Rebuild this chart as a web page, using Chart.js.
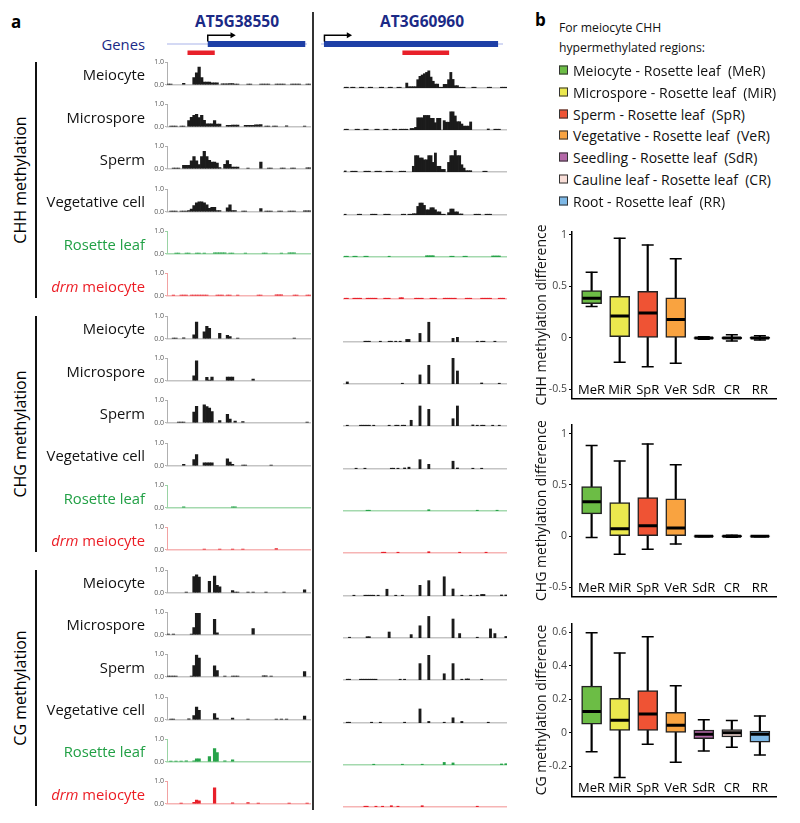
<!DOCTYPE html>
<html>
<head>
<meta charset="utf-8">
<script src="https://cdn.jsdelivr.net/npm/chart.js@4.4.1/dist/chart.umd.min.js"></script>
<style>
  body { margin: 0; background: #fff; font-family: 'Open Sans', sans-serif; }
  #fig { position: relative; width: 800px; height: 823px; overflow: hidden; }
  .abs { position: absolute; }
  canvas { display: block; }
  .rowLabel { position: absolute; right: 655px; font-size: 14.8px; white-space: nowrap; transform: translateY(-50%); }
  .groupLabel { position: absolute; left: 20px; font-size: 16px; white-space: nowrap; transform: translate(-50%, -50%) rotate(-90deg); }
  .vline { position: absolute; background: #111; }
  .panel { position: absolute; font-weight: bold; font-size: 17px; line-height: 20px; }
  .gene { position: absolute; font-weight: bold; font-size: 15.5px; color: #1b2a86; transform: translate(-50%, -50%); }
  .leg { position: absolute; left: 559px; font-size: 14px; white-space: nowrap; transform: translateY(-50%); color: #111; }
  .leg span.sq { display: inline-block; width: 7px; height: 7px; border: 1px solid #333; margin-right: 5px; vertical-align: 1px; }
</style>
</head>
<body>
<div id="fig"></div>
<script>
const FONT = "'Open Sans', sans-serif";

// ---------- panel a : genome browser tracks ----------
const NL = 56, NR = 74;   // bins in the AT5G38550 / AT3G60960 windows
const geneNames = ['AT5G38550', 'AT3G60960'];
const trackNames = ['Meiocyte', 'Microspore', 'Sperm', 'Vegetative cell', 'Rosette leaf', 'drm meiocyte'];
const contexts = ['CHH methylation', 'CHG methylation', 'CG methylation'];
const trackTicks = [0, 1];

// gene model, in bins
const geneBodyL = [16.3, 55.3], geneBodyR = [1.2, 72.0];
const tssL = 16.3, tssR = 1.4, arrowLen = 9.8;
const hyperRegionL = [8.2, 19.1], hyperRegionR = [33.1, 52.1];

// methylation level per bin: [fromBin, toBin, level]
const chhMeioL = [[0,1,.03],[6,6,.06],[10,10,.32],[11,11,.53],[12,12,.78],[13,13,.32],[14,16,.12],[17,19,.09],[21,23,.04],[24,25,.05],[26,27,.03],[31,32,.03],[36,39,.03],[42,45,.03],[48,51,.03],[54,55,.03]];
const chhMeioR = [[0,1,.03],[3,4,.03],[7,8,.03],[11,12,.03],[16,17,.03],[20,21,.03],[24,25,.03],[28,28,.19],[29,32,.05],[33,33,.32],[34,34,.45],[35,35,.5],[36,36,.55],[37,37,.6],[38,38,.66],[39,39,.42],[40,40,.26],[41,42,.15],[43,44,.03],[45,46,.14],[47,47,.32],[48,48,.6],[49,49,.33],[50,51,.09],[52,54,.03],[58,59,.03],[65,66,.03],[71,73,.03]];
const chhMicroL = [[1,3,.03],[5,6,.03],[8,8,.28],[9,9,.42],[10,10,.51],[11,11,.55],[12,12,.41],[13,13,.51],[14,14,.29],[15,17,.13],[18,18,.28],[19,20,.12],[23,24,.06],[25,27,.08],[30,33,.07],[34,35,.09],[36,36,.1],[38,39,.03],[41,42,.03],[46,46,.04],[53,53,.03]];
const chhMicroR = [[0,1,.03],[5,6,.03],[9,10,.03],[14,15,.03],[18,19,.03],[22,23,.03],[25,28,.03],[30,31,.06],[32,32,.1],[33,35,.47],[36,38,.56],[39,40,.45],[41,41,.28],[42,43,.45],[45,45,.36],[46,47,.3],[48,49,.7],[50,50,.54],[51,52,.32],[53,53,.23],[54,56,.15],[57,57,.31],[65,65,.04],[68,70,.03]];
const chhSpermL = [[2,4,.03],[6,8,.15],[9,9,.35],[10,10,.54],[11,11,.35],[12,12,.19],[13,13,.54],[14,14,.77],[15,15,.54],[16,16,.38],[17,18,.3],[19,19,.25],[20,20,.05],[22,22,.2],[23,23,.36],[24,24,.2],[25,27,.08],[31,31,.03],[36,36,.3],[39,40,.03],[44,45,.03],[48,49,.03],[54,55,.04]];
const chhSpermR = [[0,0,.04],[3,5,.03],[9,11,.03],[14,16,.03],[19,21,.03],[25,27,.03],[31,31,.22],[32,33,.63],[34,35,.54],[36,37,.47],[38,39,.63],[40,40,.37],[41,41,.73],[42,43,.22],[44,45,.1],[47,47,.37],[48,49,.63],[50,50,.83],[51,52,.63],[53,53,.28],[54,54,.15],[55,57,.05],[63,64,.03]];
const chhVegL = [[1,3,.03],[5,7,.03],[8,8,.05],[9,9,.12],[10,10,.28],[11,11,.4],[12,13,.44],[14,14,.4],[15,15,.31],[16,16,.15],[17,18,.2],[19,20,.05],[23,23,.18],[24,24,.31],[25,26,.05],[29,30,.03],[36,36,.14],[38,40,.03],[43,44,.03],[47,49,.03],[53,55,.04]];
const chhVegR = [[0,0,.03],[6,7,.03],[12,14,.03],[18,20,.03],[26,27,.03],[29,30,.03],[31,32,.05],[33,33,.33],[34,35,.46],[36,36,.37],[37,38,.2],[39,40,.28],[41,41,.2],[42,43,.12],[44,45,.03],[47,47,.09],[48,49,.23],[50,51,.12],[52,53,.04],[59,61,.03],[64,66,.03]];
const chhLeafL = [[3,4,.03],[7,8,.03],[11,12,.03],[14,14,.03],[18,22,.04],[24,25,.03],[30,30,.03],[37,38,.03],[44,44,.03],[47,49,.04]];
const chhLeafR = [[0,1,.03],[4,5,.03],[9,10,.03],[20,20,.03],[37,40,.05],[48,49,.03],[54,55,.03],[67,70,.04]];
const chhDrmL = [[2,2,.03],[5,7,.03],[9,15,.03],[19,21,.03],[23,24,.03],[27,27,.03],[35,36,.03],[42,44,.04],[49,50,.03],[54,55,.03]];
const chhDrmR = [[0,1,.03],[4,7,.03],[10,14,.03],[18,20,.03],[25,26,.05],[32,35,.03],[39,41,.03],[45,50,.03],[55,57,.03],[62,66,.03],[70,72,.03]];

const chgMeioL = [[2,3,.03],[6,6,.04],[10,10,.18],[11,11,.74],[14,14,.31],[15,15,.55],[16,16,.46],[20,20,.24],[23,23,.15],[24,24,.1],[27,27,.03],[49,49,.03]];
const chgMeioR = [[9,11,.03],[16,16,.03],[20,21,.03],[23,23,.03],[25,25,.03],[28,29,.1],[34,34,.33],[38,38,.76],[49,49,.14],[51,51,.18],[60,60,.03],[62,63,.03],[68,68,.03]];
const chgMicroL = [[10,10,.22],[11,11,.88],[15,15,.15],[16,16,.03],[17,17,.17],[23,25,.17],[33,33,.08]];
const chgMicroR = [[1,1,.08],[26,26,.03],[34,34,.35],[38,38,.72],[49,49,1.0],[51,51,.5],[62,62,.04],[70,70,.03]];
const chgSpermL = [[4,6,.03],[10,10,.47],[11,11,.73],[14,14,.8],[15,15,.72],[16,16,.65],[17,17,.5],[20,20,.1],[23,23,.38],[24,24,.16],[26,26,.08],[29,29,.05],[54,54,.03]];
const chgSpermR = [[1,1,.03],[7,11,.03],[13,13,.03],[20,20,.03],[23,24,.03],[26,27,.03],[30,30,.22],[34,34,.77],[38,38,.64],[49,49,.28],[51,51,.77],[58,58,.04],[60,60,.03],[62,63,.03],[67,67,.03],[70,70,.03]];
const chgVegL = [[6,6,.06],[10,10,.27],[11,11,.5],[14,17,.13],[23,23,.31],[24,24,.17],[25,25,.06],[29,30,.03],[40,40,.03]];
const chgVegR = [[5,5,.03],[9,9,.03],[21,22,.03],[24,24,.03],[27,27,.04],[29,29,.07],[34,34,.36],[38,38,.18],[49,49,.3],[51,51,.04],[58,58,.03],[62,62,.03]];
const chgLeafL = [[6,6,.04],[25,26,.04]];
const chgLeafR = [[10,11,.03],[38,38,.05],[60,60,.03],[69,69,.03]];
const chgDrmL = [[14,14,.03],[20,20,.03],[25,25,.03],[29,29,.03],[42,42,.05]];
const chgDrmR = [[17,18,.03],[24,24,.03],[38,38,.05],[52,52,.03],[64,64,.03]];

const cgMeioL = [[7,7,.03],[10,10,.72],[11,11,.8],[12,12,.7],[16,16,.51],[18,18,.74],[19,19,.33],[20,20,.26],[25,25,.1],[26,27,.03],[31,31,.03],[33,33,.03],[38,38,.03],[45,45,.03],[53,53,.13]];
const cgMeioR = [[4,4,.03],[9,13,.03],[15,15,.03],[19,19,.26],[23,23,.03],[26,26,.03],[34,34,.41],[38,38,.59],[45,45,.74],[49,49,.27],[53,53,.03],[57,57,.03],[60,60,.03],[62,63,.06],[71,71,.04],[73,73,.04]];
const cgMicroL = [[0,0,.03],[2,2,.03],[9,9,.03],[10,10,.32],[11,11,.95],[12,12,.95],[18,18,.68],[19,19,.09],[33,33,.28]];
const cgMicroR = [[2,2,.03],[10,11,.05],[20,20,.23],[30,30,.13],[34,34,.47],[38,38,.83],[49,49,.73],[52,52,.17],[60,60,.03],[66,66,.35],[68,68,.17],[73,73,.06]];
const cgSpermL = [[0,3,.03],[9,9,.03],[10,10,.5],[11,11,.96],[12,12,.83],[18,18,.49],[19,19,.27],[22,22,.03],[25,27,.03],[37,38,.04],[40,40,.03],[53,53,.23]];
const cgSpermR = [[1,2,.03],[7,14,.03],[25,25,.03],[27,27,.03],[34,34,.63],[38,38,.95],[45,45,.24],[49,49,.63],[53,53,.03],[55,56,.04],[62,62,.03]];
const cgVegL = [[1,2,.03],[8,8,.04],[10,10,.19],[11,11,.56],[12,12,.42],[18,18,.27],[19,19,.08],[25,25,.08],[31,31,.03],[42,42,.03],[44,44,.03],[46,46,.03],[53,53,.17]];
const cgVegR = [[1,2,.03],[12,12,.03],[16,16,.03],[27,27,.03],[34,34,.54],[38,38,.06],[45,45,.03],[49,49,.2],[53,53,.06],[65,65,.03]];
const cgLeafL = [[1,1,.03],[3,3,.03],[5,5,.03],[7,7,.04],[10,10,.04],[11,12,.13],[16,16,.23],[18,18,.58],[19,19,.41],[22,22,.04],[25,25,.09]];
const cgLeafR = [[13,13,.03],[26,26,.03],[35,35,.03],[45,45,.1],[49,49,.08],[71,71,.04],[73,73,.05]];
const cgDrmL = [[5,5,.03],[10,10,.07],[11,11,.17],[12,12,.13],[18,18,.71],[25,25,.04],[31,31,.05],[35,35,.03],[47,47,.03],[54,54,.03]];
const cgDrmR = [[9,10,.03],[14,14,.03],[17,17,.03],[21,21,.05],[24,24,.03],[35,35,.05],[60,60,.03]];

// ---------- panel b : box plots ----------
const categories = ['MeR', 'MiR', 'SpR', 'VeR', 'SdR', 'CR', 'RR'];
const legendNames = ['Meiocyte - Rosette leaf', 'Microspore - Rosette leaf', 'Sperm - Rosette leaf', 'Vegetative - Rosette leaf',
  'Seedling - Rosette leaf', 'Cauline leaf - Rosette leaf', 'Root - Rosette leaf'];
const boxColors = ['#6cbd45', '#ebe84e', '#ef5334', '#f9a340', '#b468a8', '#f8ddd7', '#7db8e6'];
// [whisker low, Q1, median, Q3, whisker high]
const chhBoxes = [
  [0.306, 0.332, 0.385, 0.459, 0.638],
  [-0.235, 0.012, 0.212, 0.403, 0.968],
  [-0.279, 0.0, 0.241, 0.453, 0.903],
  [-0.247, 0.0, 0.179, 0.388, 0.768],
  [-0.012, -0.004, 0.0, 0.004, 0.012],
  [-0.03, -0.008, 0.0, 0.008, 0.03],
  [-0.02, -0.006, 0.0, 0.006, 0.02]
];
const chgBoxes = [
  [-0.012, 0.217, 0.336, 0.482, 0.884],
  [-0.176, 0.0, 0.071, 0.327, 0.732],
  [-0.128, 0.0, 0.101, 0.375, 0.899],
  [-0.077, 0.0, 0.080, 0.363, 0.696],
  [-0.005, -0.003, 0.0, 0.003, 0.005],
  [-0.01, -0.006, 0.0, 0.006, 0.01],
  [-0.005, -0.003, 0.0, 0.003, 0.005]
];
const cgBoxes = [
  [-0.113, 0.051, 0.127, 0.278, 0.596],
  [-0.267, 0.013, 0.075, 0.205, 0.475],
  [-0.069, 0.013, 0.111, 0.251, 0.573],
  [-0.176, 0.002, 0.045, 0.122, 0.28],
  [-0.109, -0.036, -0.009, 0.015, 0.078],
  [-0.087, -0.025, 0.0, 0.018, 0.073],
  [-0.133, -0.056, -0.009, 0.009, 0.1]
];
const chhTicks = [-0.5, 0, 0.5, 1];
const chgTicks = [-0.5, 0, 0.5, 1];
const cgTicks = [-0.2, 0, 0.2, 0.4, 0.6];

const trackSets = [
  [chhMeioL, chhMeioR], [chhMicroL, chhMicroR], [chhSpermL, chhSpermR], [chhVegL, chhVegR], [chhLeafL, chhLeafR], [chhDrmL, chhDrmR],
  [chgMeioL, chgMeioR], [chgMicroL, chgMicroR], [chgSpermL, chgSpermR], [chgVegL, chgVegR], [chgLeafL, chgLeafR], [chgDrmL, chgDrmR],
  [cgMeioL, cgMeioR], [cgMicroL, cgMicroR], [cgSpermL, cgSpermR], [cgVegL, cgVegR], [cgLeafL, cgLeafR], [cgDrmL, cgDrmR]
];

const fig = document.getElementById('fig');

function el(tag, cls, style, html) {
  const e = document.createElement(tag);
  if (cls) e.className = cls;
  Object.assign(e.style, style || {});
  if (html !== undefined) e.innerHTML = html;
  fig.appendChild(e);
  return e;
}

function addCanvas(left, top, w, h) {
  const c = el('canvas', 'abs', { left: left + 'px', top: top + 'px' });
  c.width = w; c.height = h;
  c.style.width = w + 'px'; c.style.height = h + 'px';
  return c;
}

function expand(segs, n) {
  const out = new Array(n).fill(null);
  segs.forEach(([a, b, v]) => { for (let i = a; i <= b; i++) out[i] = v; });
  return out;
}

// track style by sample row
function trackStyle(row) {
  if (row === 4) return { bar: '#27a34a', base: '#a4d9ae', axis: '#9ad3a4', label: '#21a045' };
  if (row === 5) return { bar: '#e8202a', base: '#f6b4b4', axis: '#f2a2a2', label: '#ec1c24' };
  return { bar: '#1b1b1b', base: '#c4c4c4', axis: '#b0b0b0', label: '#111' };
}

function trackChart(canvas, segs, n, st, showAxis) {
  const labels = Array.from({ length: n }, (_, i) => i);
  new Chart(canvas, {
    type: 'bar',
    data: {
      labels: labels,
      datasets: [{
        data: expand(segs, n),
        backgroundColor: st.bar,
        borderWidth: 0,
        barPercentage: 1,
        categoryPercentage: 1
      }]
    },
    options: {
      responsive: false,
      animation: false,
      events: [],
      layout: { padding: { top: 5, bottom: 2, left: 0, right: 0 } },
      plugins: { legend: { display: false }, tooltip: { enabled: false } },
      scales: {
        x: {
          ticks: { display: false },
          grid: { display: false },
          border: { color: st.base, width: 1.5 },
          afterFit: s => { s.height = 0; }
        },
        y: {
          display: showAxis,
          min: 0,
          max: 1,
          afterBuildTicks: s => { s.ticks = trackTicks.map(v => ({ value: v })); },
          ticks: { font: { size: 7, family: FONT }, color: '#555', padding: 1, callback: v => v.toFixed(1) },
          grid: { drawOnChartArea: false, tickLength: 2, color: st.axis },
          border: { dash: [1, 1], color: st.axis, width: 1 },
          afterFit: s => { s.width = 27; }
        }
      }
    }
  });
}

function geneChart(canvas, n, body, tss, region, padLeft) {
  // lower order is drawn on top
  const line = (pts, color, width, order) => ({
    data: pts, borderColor: color, borderWidth: width, showLine: true, order: order,
    pointRadius: 0, clip: false, borderCapStyle: 'butt'
  });
  new Chart(canvas, {
    type: 'scatter',
    data: {
      datasets: [
        line([{ x: 0, y: 0 }, { x: n, y: 0 }], '#c6cdf0', 1.5, 4),
        line([{ x: body[0], y: 0 }, { x: body[1], y: 0 }], '#1e3fa6', 6, 3),
        line([{ x: region[0], y: -1 }, { x: region[1], y: -1 }], '#e8202a', 4.5, 2),
        Object.assign(line([{ x: tss, y: 0.3 }, { x: tss, y: 1 }, { x: tss + arrowLen, y: 1 }], '#000', 1.5, 1), {
          pointRadius: [0, 0, 3.5], pointStyle: 'triangle', rotation: 90,
          pointBackgroundColor: '#000', pointBorderWidth: 0
        })
      ]
    },
    options: {
      responsive: false,
      animation: false,
      events: [],
      layout: { padding: { left: padLeft, right: 0, top: 0, bottom: 0 } },
      plugins: { legend: { display: false }, tooltip: { enabled: false } },
      scales: {
        x: { type: 'linear', display: false, min: 0, max: n },
        y: { type: 'linear', display: false, min: -1.6, max: 1.6 }
      }
    }
  });
}

// ----- panel a layout -----
el('div', 'panel', { left: '11px', top: '12px' }, 'a');
el('div', 'gene', { left: '237px', top: '21px' }, geneNames[0]);
el('div', 'gene', { left: '422px', top: '21px' }, geneNames[1]);
el('div', 'rowLabel', { top: '43.5px', color: '#1b2a86' }, 'Genes');
geneChart(addCanvas(140, 26, 171, 36), NL, geneBodyL, tssL, hyperRegionL, 27);
geneChart(addCanvas(317, 26, 190, 36), NR, geneBodyR, tssR, hyperRegionR, 0);

const base0 = 87.7, rowStep = 42.33;
trackSets.forEach((pair, k) => {
  const row = k % 6;
  const st = trackStyle(row);
  const baseline = base0 + rowStep * k;
  const top = Math.round(baseline - 31);
  trackChart(addCanvas(140, top, 171, 33), pair[0], NL, st, true);
  trackChart(addCanvas(317, top, 190, 33), pair[1], NR, st, false);
  const name = trackNames[row];
  const html = name.startsWith('drm ') ? '<i>drm</i>' + name.slice(3) : name;
  el('div', 'rowLabel', { top: (baseline - 13.5) + 'px', color: st.label }, html);
});

contexts.forEach((c, g) => {
  const yTop = base0 + rowStep * (g * 6) - 26;
  const yBot = base0 + rowStep * (g * 6 + 5) - 1;
  el('div', 'vline', { left: '35px', width: '2px', top: yTop + 'px', height: (yBot - yTop) + 'px' });
  el('div', 'groupLabel', { top: ((yTop + yBot) / 2) + 'px' }, c);
});
el('div', 'vline', { left: '311.5px', width: '2px', top: '12px', height: '798px', background: '#333' });

// ----- panel b -----
el('div', 'panel', { left: '535px', top: '10px' }, 'b');
el('div', 'abs', { left: '559px', top: '18px', fontSize: '12.2px', lineHeight: '20px', color: '#111' },
  'For meiocyte CHH<br>hypermethylated regions:');
legendNames.forEach((name, i) => {
  el('div', 'leg', { top: (70 + 21.8 * i) + 'px' },
    `<span class="sq" style="background:${boxColors[i]}"></span>${name}&nbsp; (${categories[i]})`);
});

const categoryLabels = {
  id: 'categoryLabels',
  afterDraw(chart) {
    const { ctx, chartArea, scales: { x } } = chart;
    ctx.save();
    ctx.font = `13px ${FONT}`;
    ctx.fillStyle = '#000';
    ctx.textAlign = 'center';
    ctx.textBaseline = 'middle';
    categories.forEach((c, i) => ctx.fillText(c, x.getPixelForValue(i), chartArea.bottom - 8.5));
    ctx.restore();
  }
};

function boxChart(canvas, boxes, yMin, yMax, yTicks, title) {
  new Chart(canvas, {
    type: 'bar',
    data: {
      datasets: [
        {
          type: 'line', showLine: false, order: 1,
          data: boxes.map((b, i) => ({ x: i, y: b[2] })),
          pointStyle: 'line', pointRadius: 9.3, pointBorderWidth: 3, pointBorderColor: '#000', borderColor: '#000'
        },
        {
          type: 'line', showLine: false, order: 1,
          data: boxes.flatMap((b, i) => [{ x: i, y: b[0] }, { x: i, y: b[4] }]),
          pointStyle: 'line', pointRadius: 6, pointBorderWidth: 1.5, pointBorderColor: '#000', borderColor: '#000'
        },
        {
          order: 2, grouped: false, barThickness: 20,
          data: boxes.map((b, i) => ({ x: i, y: [b[1], b[3]] })),
          backgroundColor: boxColors, borderColor: '#222', borderWidth: 1.5, borderSkipped: false
        },
        {
          order: 3, grouped: false, barThickness: 1.5,
          data: boxes.map((b, i) => ({ x: i, y: [b[0], b[4]] })),
          backgroundColor: '#000', borderWidth: 0
        }
      ]
    },
    options: {
      responsive: false,
      animation: false,
      events: [],
      layout: { padding: { top: 6, bottom: 2, left: 0, right: 2 } },
      plugins: { legend: { display: false }, tooltip: { enabled: false } },
      scales: {
        x: {
          type: 'linear', min: -0.7, max: 6.6, offset: false,
          ticks: { display: false }, grid: { display: false },
          border: { color: '#000', width: 1.5 },
          afterFit: s => { s.height = 0; }
        },
        y: {
          min: yMin, max: yMax,
          afterBuildTicks: s => { s.ticks = yTicks.map(v => ({ value: v })); },
          ticks: { font: { size: 10.5, family: FONT }, color: '#444', padding: 2, callback: v => String(v) },
          grid: { drawOnChartArea: false, tickLength: 3, color: '#000' },
          border: { color: '#000', width: 1.5 },
          title: { display: true, text: title, font: { size: 14, family: FONT }, color: '#111', padding: { top: 4, bottom: 0 } },
          afterFit: s => { s.width = 42; }
        }
      }
    },
    plugins: [categoryLabels]
  });
}

boxChart(addCanvas(530, 219, 259, 192), chhBoxes, -0.59, 1.035, chhTicks, 'CHH methylation difference');
boxChart(addCanvas(530, 412, 259, 197), chgBoxes, -0.59, 1.09, chgTicks, 'CHG methylation difference');
boxChart(addCanvas(530, 611, 259, 198), cgBoxes, -0.382, 0.653, cgTicks, 'CG methylation difference');
</script>
</body>
</html>
